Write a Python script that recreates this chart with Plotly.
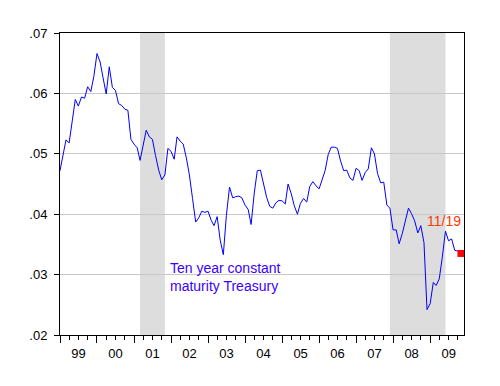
import pandas as pd
import plotly.graph_objects as go

# Monthly ten-year constant maturity Treasury yield (decimal), Jan 1999 - Nov 2009
start_month = "1999-01-01"
yields = [
    # 1999
    0.0472, 0.0500, 0.0523, 0.0518, 0.0554, 0.0590, 0.0579, 0.0594, 0.0592, 0.0611, 0.0603, 0.0628,
    # 2000
    0.0666, 0.0652, 0.0626, 0.0599, 0.0644, 0.0610, 0.0605, 0.0583, 0.0580, 0.0574, 0.0572, 0.0524,
    # 2001
    0.0516, 0.0510, 0.0489, 0.0514, 0.0539, 0.0528, 0.0524, 0.0497, 0.0473, 0.0457, 0.0465, 0.0509,
    # 2002
    0.0504, 0.0491, 0.0528, 0.0521, 0.0516, 0.0493, 0.0465, 0.0426, 0.0387, 0.0394, 0.0405, 0.0403,
    # 2003
    0.0405, 0.0390, 0.0381, 0.0396, 0.0357, 0.0333, 0.0398, 0.0445, 0.0427, 0.0429, 0.0430, 0.0427,
    # 2004
    0.0415, 0.0408, 0.0383, 0.0435, 0.0472, 0.0473, 0.0450, 0.0428, 0.0413, 0.0410, 0.0419, 0.0423,
    # 2005
    0.0422, 0.0417, 0.0450, 0.0434, 0.0414, 0.0400, 0.0418, 0.0426, 0.0420, 0.0446, 0.0454, 0.0447,
    # 2006
    0.0442, 0.0457, 0.0472, 0.0499, 0.0511, 0.0511, 0.0509, 0.0488, 0.0472, 0.0473, 0.0460, 0.0456,
    # 2007
    0.0476, 0.0472, 0.0456, 0.0469, 0.0475, 0.0510, 0.0500, 0.0467, 0.0452, 0.0453, 0.0415, 0.0410,
    # 2008
    0.0374, 0.0374, 0.0351, 0.0368, 0.0388, 0.0410, 0.0401, 0.0389, 0.0369, 0.0381, 0.0353, 0.0242,
    # 2009
    0.0252, 0.0287, 0.0282, 0.0293, 0.0329, 0.0372, 0.0356, 0.0359, 0.0340, 0.0339, 0.0335,
]
months = pd.date_range(start_month, periods=len(yields), freq="MS")

latest_label = "11/19"
latest_value = 0.0335
latest_date = months[-1]

recessions = [("2001-03-01", "2001-11-01"), ("2007-12-01", "2009-06-01")]

y_ticks = [0.02, 0.03, 0.04, 0.05, 0.06, 0.07]
y_tick_text = [".02", ".03", ".04", ".05", ".06", ".07"]

series_label = "Ten year constant<br>maturity Treasury"

FONT = "Arial, 'Liberation Sans', sans-serif"

fig = go.Figure()
fig.add_trace(go.Scatter(x=months, y=yields, mode="lines",
                         line=dict(color="#0000FF", width=1), showlegend=False))
fig.add_trace(go.Scatter(x=[latest_date], y=[latest_value], mode="markers",
                         marker=dict(symbol="square", size=7, color="#FF0000"),
                         showlegend=False))

for a, b in recessions:
    fig.add_shape(type="rect", xref="x", yref="paper", x0=a, x1=b, y0=0, y1=1,
                  fillcolor="#DDDDDD", line=dict(width=0), layer="below")

fig.add_annotation(text=series_label, xref="paper", yref="y", x=0.267, y=0.0296,
                   xanchor="left", yanchor="middle", align="left", showarrow=False,
                   font=dict(family=FONT, size=14, color="#3A00FF"))
fig.add_annotation(text=latest_label, xref="paper", yref="y", x=0.997, y=0.0388,
                   xanchor="right", yanchor="middle", showarrow=False,
                   font=dict(family=FONT, size=14, color="#FF3C00"))

fig.update_layout(
    width=500, height=386,
    margin=dict(l=60, r=36, t=33, b=51),
    paper_bgcolor="white", plot_bgcolor="white",
    font=dict(family=FONT, size=13, color="#000000"),
)
fig.update_xaxes(
    type="date", range=["1999-01-01", "2009-12-01"],
    tick0="1999-01-01", dtick="M12", tickformat="%y", ticklabelmode="period",
    ticks="outside", ticklen=7, tickcolor="black", tickwidth=1,
    minor=dict(dtick="M3", ticks="outside", ticklen=4, tickcolor="black", tickwidth=1, showgrid=False),
    showgrid=False, zeroline=False,
    showline=True, linecolor="black", linewidth=1, mirror=True,
    tickfont=dict(size=13), ticklabelstandoff=-1,
)
fig.update_yaxes(
    range=[0.02, 0.07], tickvals=y_ticks, ticktext=y_tick_text,
    ticks="outside", ticklen=5, tickcolor="black", tickwidth=1,
    showgrid=True, gridcolor="#C8C8C8", gridwidth=1, zeroline=False,
    showline=True, linecolor="black", linewidth=1, mirror=True,
    tickfont=dict(size=13), ticklabelstandoff=4,
)

fig.write_html("out.html", config={"displayModeBar": False},
               post_script="document.body.style.margin='0';")
